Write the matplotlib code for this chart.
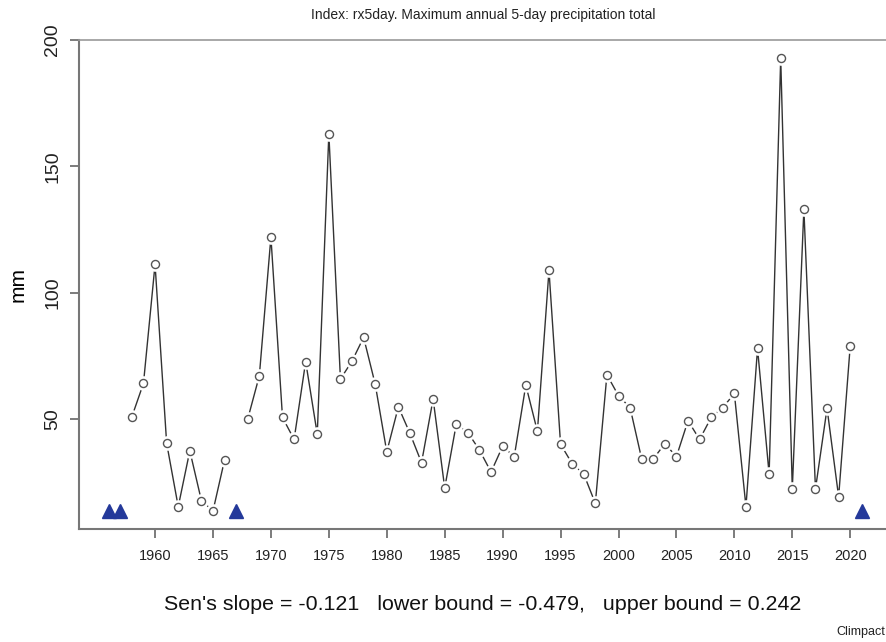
import numpy as np
import matplotlib
matplotlib.use("Agg")
import matplotlib.pyplot as plt

plt.rcParams['font.family'] = ['Liberation Sans', 'DejaVu Sans']

years = np.arange(1956, 2022)
# rx5day values (mm), NaN = missing year
rx5day = [np.nan, np.nan, 50.9, 64.1, 111.2, 40.4, 15.3, 37.4, 17.7, 13.6,
          33.8, np.nan, 50.0, 67.1, 122.0, 50.6, 41.9, 72.7, 44.0, 162.9,
          65.8, 72.9, 82.3, 63.8, 37.0, 54.8, 44.3, 32.7, 57.9, 22.7,
          48.0, 44.6, 37.7, 29.0, 39.2, 35.1, 63.4, 45.1, 108.8, 40.0,
          32.3, 28.2, 16.6, 67.5, 59.2, 54.5, 34.2, 34.2, 40.2, 35.1,
          49.3, 41.9, 50.6, 54.5, 60.1, 15.3, 77.9, 28.2, 192.8, 22.3,
          133.0, 22.3, 54.2, 19.2, 79.0, np.nan]
rx5day = np.array(rx5day)

title = "Index: rx5day. Maximum annual 5-day precipitation total"
slope_text = "Sen's slope = -0.121   lower bound = -0.479,   upper bound = 0.242"
xticks = np.arange(1960, 2021, 5)
yticks = [50, 100, 150, 200]

fig = plt.figure(figsize=(8.86, 6.42), dpi=100)
ax = fig.add_axes([0.0887, 0.176, 0.918, 0.7617])

# line with gaps around the points (R type="b")
ax.plot(years, rx5day, color='#333333', lw=1.0, zorder=2)
ax.plot(years, rx5day, 'o', ms=10.5, mfc='white', mec='none', zorder=3)
ax.plot(years, rx5day, 'o', ms=5.8, mfc='white', mec='#555555', mew=1.0, zorder=4)

# missing years marked at the bottom
missing = years[np.isnan(rx5day)]
ax.plot(missing, np.full(len(missing), np.nanmin(rx5day)), '^', ms=10,
        color='#24399a', zorder=5, clip_on=False)

ax.set_xlim(1953.4, 2023.6)
ax.set_ylim(6.45, 200)
ax.set_xticks(xticks)
ax.set_yticks(yticks)
ax.tick_params(axis='x', labelsize=10.5, length=6.5, width=1.2, color='#666666',
               pad=8, labelcolor='#222222')
ax.tick_params(axis='y', labelsize=14, length=6.5, width=1.2, color='#666666',
               pad=6, labelcolor='#222222')
for lab in ax.get_yticklabels():
    lab.set_rotation(90)
    lab.set_va('center')
for name, sp in ax.spines.items():
    sp.set_color('#777777')
    sp.set_linewidth(1.5)
ax.spines['top'].set_color('#999999')
ax.spines['top'].set_linewidth(1.2)

ax.set_ylabel('mm', fontsize=15, labelpad=12)

fig.text(483 / 886, 1 - 15 / 642, title, ha='center', va='center', fontsize=10,
         color='#222222')
fig.text(483 / 886, 1 - 605 / 642, slope_text, ha='center', va='center',
         fontsize=15.4, color='#111111')
fig.text(836 / 886, 1 - 632 / 642, 'Climpact', ha='left', va='center',
         fontsize=9, color='#222222')

fig.savefig('out.png', dpi=100)
